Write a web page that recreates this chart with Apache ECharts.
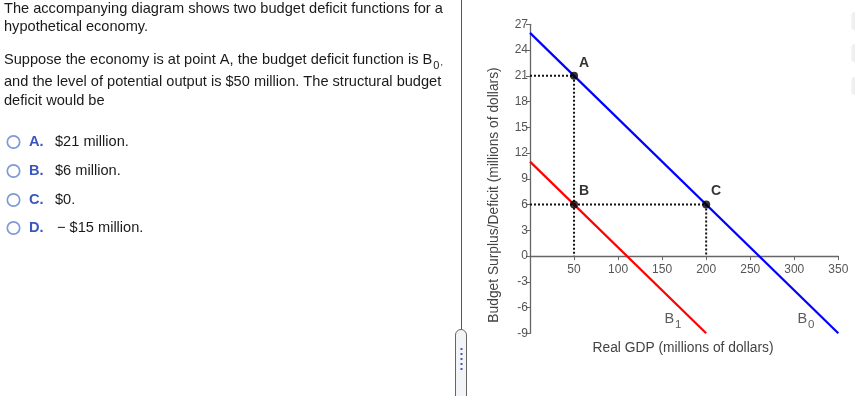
<!DOCTYPE html>
<html>
<head>
<meta charset="utf-8">
<script src="https://cdn.jsdelivr.net/npm/echarts@6/dist/echarts.min.js"></script>
<style>
html,body{margin:0;padding:0;background:#fff;}
#chart{width:855px;height:396px;}
</style>
</head>
<body>
<div id="chart"></div>
<script>
// ---- data ----
const xTicks = [0, 50, 100, 150, 200, 250, 300, 350];
const yTicks = [-9, -6, -3, 0, 3, 6, 9, 12, 15, 18, 21, 24, 27];
const b0Line = [[0, 26], [350, -9]];
const b1Line = [[0, 11], [200, -9]];
const pointNames = ['A', 'B', 'C'];
const pointValues = [[50, 21], [50, 6], [200, 6]];
const guideA = [[0, 21], [50, 21], [50, 0]];
const guideC = [[0, 6], [200, 6], [200, 0]];
const curveNames = ['B1', 'B0'];
const curveLabelPos = [[152, -7.4], [303, -7.4]];
const questionLines = [
  'The accompanying diagram shows two budget deficit functions for a',
  'hypothetical economy.'
];
const optionLetters = ['A.', 'B.', 'C.', 'D.'];
const optionTexts = ['$21 million.', '$6 million.', '$0.', '\u2212 $15 million.'];

const FONT = 'Arial, "Liberation Sans", sans-serif';
const FS = '14.6px ';
const chart = echarts.init(document.getElementById('chart'), null, {renderer: 'canvas'});

const GRID = {left: 530, top: 24.3, width: 308.3, height: 309};
const yMin = yTicks[0], yMax = yTicks[yTicks.length - 1];
const xAxisOffset = -(0 - yMin) / (yMax - yMin) * GRID.height;

const graphics = [];
// question text
graphics.push({type: 'text', x: 4, y: 9, style: {text: questionLines[0], font: FS + FONT, fill: '#1a1a1a', verticalAlign: 'middle'}});
graphics.push({type: 'text', x: 4, y: 27, style: {text: questionLines[1], font: FS + FONT, fill: '#1a1a1a', verticalAlign: 'middle'}});
graphics.push({type: 'text', x: 4, y: 60, style: {
  text: '{t|Suppose the economy is at point A, the budget deficit function is B}{s|0}{c|,}',
  verticalAlign: 'middle',
  rich: {t: {font: FS + FONT, fill: '#1a1a1a', lineHeight: 16, verticalAlign: 'top'},
         s: {font: '11px ' + FONT, fill: '#1a1a1a', lineHeight: 11, verticalAlign: 'top', padding: [8, 1, 0, 1]},
         c: {font: '9px ' + FONT, fill: '#1a1a1a', lineHeight: 11, verticalAlign: 'top', padding: [6, 0, 0, 0]}}
}});
graphics.push({type: 'text', x: 4, y: 82, style: {text: 'and the level of potential output is $50 million. The structural budget', font: FS + FONT, fill: '#1a1a1a', verticalAlign: 'middle'}});
graphics.push({type: 'text', x: 4, y: 101, style: {text: 'deficit would be', font: FS + FONT, fill: '#1a1a1a', verticalAlign: 'middle'}});
const optY = [142, 171, 200, 228];
optionLetters.forEach((l, i) => {
  graphics.push({type: 'circle', shape: {cx: 13.5, cy: optY[i], r: 6.2}, style: {fill: '#fff', stroke: '#7f9ad8', lineWidth: 1.7}});
  graphics.push({type: 'text', x: 29, y: optY[i], style: {text: l, font: 'bold ' + FS + FONT, fill: '#3a56c2', verticalAlign: 'middle'}});
  graphics.push({type: 'text', x: i === 3 ? 57 : 55, y: optY[i], style: {text: optionTexts[i], font: FS + FONT, fill: '#1a1a1a', verticalAlign: 'middle'}});
});
// divider and handle
graphics.push({type: 'line', shape: {x1: 461.5, y1: 0, x2: 461.5, y2: 329}, style: {stroke: '#555', lineWidth: 1}});
graphics.push({type: 'rect', shape: {x: 455.5, y: 329.5, width: 11, height: 75, r: 5.5}, style: {fill: '#f3f4f8', stroke: '#666', lineWidth: 1}});
[348, 353, 358, 363, 368].forEach(y => {
  graphics.push({type: 'rect', shape: {x: 460.5, y: y, width: 2, height: 2}, style: {fill: '#4a5aa8'}});
});
// right-edge faint tabs
[[12, 18], [44, 18], [77, 18]].forEach(([y, h]) => {
  graphics.push({type: 'rect', shape: {x: 851, y: y, width: 10, height: h, r: 4},
    style: {fill: {type: 'linear', x: 0, y: 0, x2: 1, y2: 0, colorStops: [{offset: 0, color: '#f4f4f4'}, {offset: 1, color: '#e2e2e2'}]}}});
});
// axis titles
graphics.push({type: 'text', x: 683, y: 348, style: {text: 'Real GDP (millions of dollars)', font: '13.8px ' + FONT, fill: '#444', align: 'center', verticalAlign: 'middle'}});
graphics.push({type: 'text', x: 494, y: 195, rotation: Math.PI / 2, style: {text: 'Budget Surplus/Deficit (millions of dollars)', font: '13.8px ' + FONT, fill: '#444', align: 'center', verticalAlign: 'middle'}});

const dotted = {color: '#111', width: 2, type: [2, 2], cap: 'butt'};

const option = {
  animation: false,
  backgroundColor: '#fff',
  textStyle: {fontFamily: FONT},
  grid: Object.assign({containLabel: false}, GRID),
  xAxis: {
    type: 'value', min: xTicks[0], max: xTicks[xTicks.length - 1], interval: 50,
    position: 'bottom', offset: xAxisOffset,
    axisLine: {show: true, onZero: false, lineStyle: {color: '#666', width: 1.3}},
    axisTick: {show: true, length: 4, lineStyle: {color: '#666'}},
    axisLabel: {color: '#555', fontSize: 12, margin: 8, showMinLabel: false, fontFamily: FONT},
    splitLine: {show: false}
  },
  yAxis: {
    type: 'value', min: yMin, max: yMax, interval: 3,
    axisLine: {show: true, onZero: false, lineStyle: {color: '#666', width: 1.3}},
    axisTick: {show: true, length: 4, lineStyle: {color: '#666'}},
    axisLabel: {color: '#555', fontSize: 12, margin: 2, fontFamily: FONT},
    splitLine: {show: false}
  },
  series: [
    {type: 'line', data: guideA, symbol: 'none', lineStyle: dotted, z: 2, silent: true},
    {type: 'line', data: guideC, symbol: 'none', lineStyle: dotted, z: 2, silent: true},
    {type: 'line', name: 'B0', data: b0Line, symbol: 'none', lineStyle: {color: '#0000ff', width: 2.2}, z: 3},
    {type: 'line', name: 'B1', data: b1Line, symbol: 'none', lineStyle: {color: '#ff0000', width: 2.2}, z: 3},
    {type: 'scatter', data: pointValues.map((v, i) => ({name: pointNames[i], value: v})),
     symbolSize: 8, itemStyle: {color: '#000'}, z: 5,
     label: {show: true, formatter: '{b}', position: 'top', distance: 4, offset: [10, 2], color: '#000', fontWeight: 'bold', fontSize: 14, fontFamily: FONT}},
    {type: 'scatter', data: curveLabelPos.map((v, i) => ({name: curveNames[i], value: v})),
     symbolSize: 1, itemStyle: {color: 'rgba(0,0,0,0)'}, z: 5, silent: true,
     label: {show: true, position: 'right', distance: 0, color: '#333', fontSize: 14.5,
       formatter: p => '{b|B}{s|' + p.name.slice(1) + '}',
       rich: {b: {fontSize: 14.5, fontFamily: FONT, color: '#333', lineHeight: 16, verticalAlign: 'top'},
              s: {fontSize: 11.5, fontFamily: FONT, color: '#333', lineHeight: 12, verticalAlign: 'top', padding: [7, 0, 0, 1]}}}}
  ],
  graphic: graphics
};
chart.setOption(option);
</script>
</body>
</html>
